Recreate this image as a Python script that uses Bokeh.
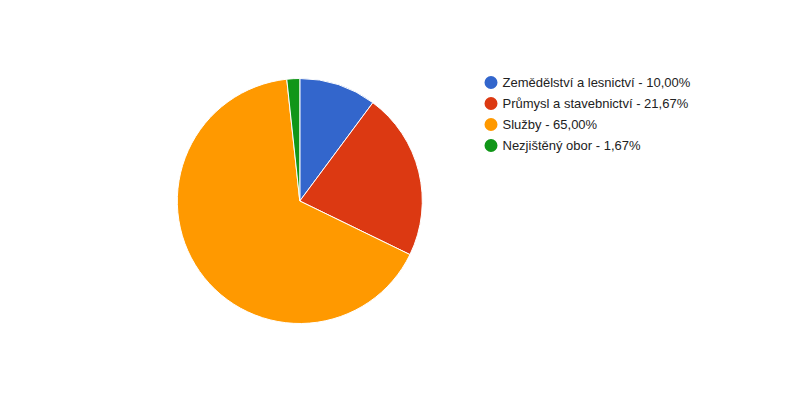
import math
from bokeh.plotting import figure
from bokeh.models import Range1d, ColumnDataSource
from bokeh.core.properties import value
from bokeh.embed import file_html
from bokeh.resources import INLINE

categories = ["Zemědělství a lesnictví", "Průmysl a stavebnictví", "Služby", "Nezjištěný obor"]
percent_labels = ["10,00%", "21,67%", "65,00%", "1,67%"]
values = [10.00, 21.67, 65.00, 1.67]
colors = ["#3366cc", "#dc3912", "#ff9900", "#109618"]

W, H = 784, 384
p = figure(width=W, height=H, output_backend="svg", toolbar_location=None,
           x_range=Range1d(0, 784), y_range=Range1d(16, 400), min_border=0)
p.axis.visible = False
p.grid.visible = False
p.outline_line_color = None
p.background_fill_color = "white"
p.border_fill_color = "white"

# page coords -> data coords
def py(y):
    return 400 - y

cx, cy, r = 299.3, py(200.5), 122.5
total = sum(values)
starts, ends = [], []
acc = 0.0
for v in values:
    a0 = math.pi / 2 - 2 * math.pi * acc / total
    acc += v
    a1 = math.pi / 2 - 2 * math.pi * acc / total
    starts.append(a0)
    ends.append(a1)

src = ColumnDataSource(dict(start=starts, end=ends, color=colors))
p.wedge(x=cx, y=cy, radius=r, start_angle="start", end_angle="end", direction="clock",
        fill_color="color", line_color="white", line_width=1, source=src)

ly = [py(82.0 + 21 * i) for i in range(len(categories))]
lx = [490.5] * len(categories)
labels = [f"{c} - {pct}" for c, pct in zip(categories, percent_labels)]
p.circle(x=lx, y=ly, radius=6.5, fill_color=colors, line_color=None)
p.text(x=[502.0] * len(labels), y=ly, text=labels, text_font=value("Liberation Sans"),
       text_font_size="13px", text_color="#222222", text_baseline="middle", text_align="left")

open("out.html", "w").write(file_html(p, INLINE))
